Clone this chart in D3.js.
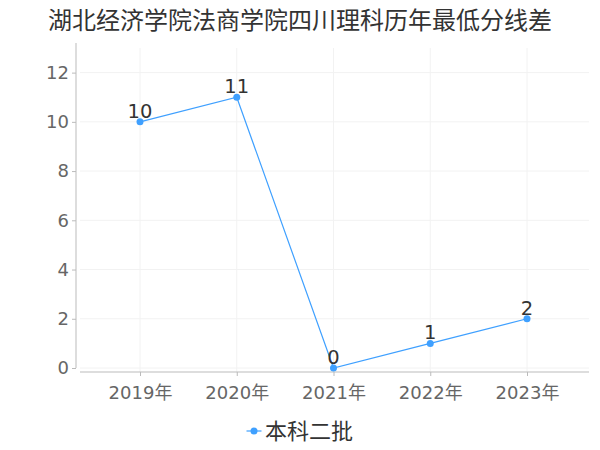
<!DOCTYPE html>
<html><head><meta charset="utf-8">
<script src="https://cdn.jsdelivr.net/npm/d3@7"></script>
<style>body{margin:0;background:#fff}svg{font-family:"DejaVu Sans","Noto Sans CJK SC",sans-serif}</style>
</head><body><svg id="c" width="600" height="450"></svg>
<script>
const title = "湖北经济学院法商学院四川理科历年最低分线差";
const categories = ["2019年","2020年","2021年","2022年","2023年"];
const seriesName = "本科二批";
const values = [10, 11, 0, 1, 2];
const yTicks = [0, 2, 4, 6, 8, 10, 12];

const svg = d3.select("#c");
const color = "#3fa0ff";
const mLeft = 80, mRight = 589, mTop = 48, mBottom = 368;
const x = d3.scalePoint().domain(categories).range([140, 527]);
const y = d3.scaleLinear().domain([0, 13]).range([mBottom, mTop]);
const fontNum = '"DejaVu Sans","Noto Sans CJK SC",sans-serif';

// grid
svg.append("g").selectAll("line").data(yTicks).join("line")
  .attr("x1", mLeft).attr("x2", mRight).attr("y1", d => y(d)).attr("y2", d => y(d))
  .attr("stroke", "#f2f2f2").attr("stroke-width", 1);
svg.append("g").selectAll("line").data(categories).join("line")
  .attr("x1", d => x(d)).attr("x2", d => x(d)).attr("y1", mTop).attr("y2", mBottom + 4)
  .attr("stroke", "#f2f2f2").attr("stroke-width", 1);

// y axis
const ya = svg.append("g").attr("transform", `translate(76,0)`)
  .call(d3.axisLeft(y).tickValues(yTicks).tickSize(4).tickPadding(3));
ya.select(".domain").attr("stroke", "#bbb").attr("d", `M0,${mTop-5}V${mBottom}`);
ya.selectAll(".tick line").attr("stroke", "#bbb");
ya.selectAll(".tick text").attr("font-size", 18).attr("fill", "#666")
  .attr("font-family", fontNum);

// x axis
const xa = svg.append("g").attr("transform", `translate(0,372)`)
  .call(d3.axisBottom(x).tickSize(4).tickPadding(10));
xa.select(".domain").attr("stroke", "#bbb").attr("d", `M${mLeft},0H${mRight}`);
xa.selectAll(".tick line").attr("stroke", "#bbb");
xa.selectAll(".tick text").attr("font-size", 18).attr("fill", "#666")
  .attr("font-family", fontNum);

// line
const line = d3.line().x((d,i) => x(categories[i])).y(d => y(d));
svg.append("path").datum(values).attr("d", line).attr("fill", "none")
  .attr("stroke", color).attr("stroke-width", 1.2);
svg.append("g").selectAll("circle").data(values).join("circle")
  .attr("cx", (d,i) => x(categories[i])).attr("cy", d => y(d)).attr("r", 3.5).attr("fill", color);
svg.append("g").selectAll("text").data(values).join("text")
  .attr("x", (d,i) => x(categories[i])).attr("y", d => y(d) - 4)
  .attr("text-anchor", "middle").attr("font-size", 19.5).attr("fill", "#333")
  .attr("font-family", fontNum).text(d => d);

// title
svg.append("text").attr("x", 300).attr("y", 29).attr("text-anchor", "middle")
  .attr("font-size", 24).attr("fill", "#333")
  .attr("font-family", '"Noto Sans CJK SC",sans-serif').text(title);

// legend
const lg = svg.append("g").attr("transform", "translate(254,431)");
lg.append("line").attr("x1", -7.5).attr("x2", 7.5).attr("stroke", color).attr("stroke-width", 1.2);
lg.append("circle").attr("r", 3.5).attr("fill", color);
lg.append("text").attr("x", 11).attr("y", 8).attr("font-size", 22).attr("fill", "#333")
  .attr("font-family", '"Noto Sans CJK SC",sans-serif').text(seriesName);
</script></body></html>
